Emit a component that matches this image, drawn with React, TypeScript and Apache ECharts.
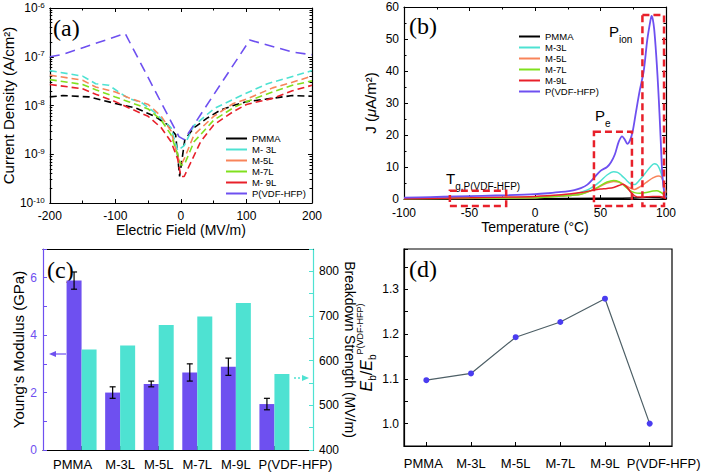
import React, { useEffect, useRef } from 'react';
import * as echarts from 'echarts';

const FONT = '"Liberation Sans", Arial, sans-serif';
const SERIF = '"Liberation Serif", "Times New Roman", serif';

const C_BLACK = '#000000';
const C_CYAN = '#4ee2d2';
const C_ORANGE = '#f8845a';
const C_GREEN = '#80e01e';
const C_RED = '#e8202a';
const C_PURPLE = '#6e50f0';
const SERIES_COLORS = [C_BLACK, C_CYAN, C_ORANGE, C_GREEN, C_RED, C_PURPLE];

// ---------- (a) leakage current density vs electric field ----------
const aNames = ['PMMA', 'M- 3L', 'M-5L', 'M-7L', 'M- 9L', 'P(VDF-HFP)'];
const aPMMA: number[][] = [[-200, 1.5e-8], [-180, 1.6e-8], [-140, 1.5e-8], [-100, 1.1e-8], [-70, 9e-9], [-40, 6e-9], [-20, 4e-9], [-8, 2.5e-9], [-2, 3.5e-10], [6, 2e-9], [20, 3.5e-9], [40, 5.5e-9], [60, 8e-9], [80, 1e-8], [100, 1.2e-8], [130, 1.35e-8], [170, 1.6e-8], [200, 1.55e-8]];
const aM3L: number[][] = [[-200, 5.2e-8], [-150, 4e-8], [-130, 2.8e-8], [-110, 2.6e-8], [-95, 1.9e-8], [-80, 1.4e-8], [-60, 1.15e-8], [-40, 7.2e-9], [-15, 3.5e-9], [-5, 1.2e-9], [5, 1.5e-9], [20, 3.9e-9], [51, 8.7e-9], [92, 1.6e-8], [132, 2.8e-8], [172, 4e-8], [200, 5.2e-8]];
const aM5L: number[][] = [[-200, 4.2e-8], [-150, 3.3e-8], [-130, 2.4e-8], [-100, 1.9e-8], [-80, 1.45e-8], [-50, 1.05e-8], [-30, 6e-9], [-15, 3e-9], [-5, 9e-10], [0, 6e-10], [5, 8e-10], [20, 2.5e-9], [50, 6e-9], [80, 1.1e-8], [100, 1.35e-8], [140, 2.3e-8], [170, 3e-8], [200, 4e-8]];
const aM7L: number[][] = [[-200, 3.4e-8], [-150, 2.7e-8], [-130, 2.1e-8], [-100, 1.5e-8], [-80, 1.2e-8], [-50, 8.5e-9], [-30, 5e-9], [-15, 2.5e-9], [-5, 1e-9], [0, 6e-10], [5, 6e-10], [20, 1.8e-9], [50, 5e-9], [80, 9e-9], [100, 1.2e-8], [140, 1.9e-8], [170, 2.6e-8], [200, 3.2e-8]];
const aM9L: number[][] = [[-200, 2.7e-8], [-150, 2.2e-8], [-130, 1.7e-8], [-100, 1.2e-8], [-80, 9e-9], [-50, 6e-9], [-30, 3.5e-9], [-15, 1.8e-9], [-5, 8e-10], [0, 3.5e-10], [5, 3.5e-10], [30, 1.8e-9], [50, 4e-9], [80, 7.5e-9], [100, 1.05e-8], [140, 1.4e-8], [170, 2e-8], [200, 2.6e-8]];
const aPVDF: number[][] = [[-200, 1e-7], [-180, 1.12e-7], [-85, 3e-7], [-3, 2.3e-9], [5, 2e-9], [105, 2.2e-7], [170, 1.25e-7], [200, 1.1e-7]];
const aData = [aPMMA, aM3L, aM5L, aM7L, aM9L, aPVDF];
const aXTicks = [-200, 200, 100];
const aYRange = [1e-10, 1e-6];

// ---------- (b) TSDC ----------
const bNames = ['PMMA', 'M-3L', 'M-5L', 'M-7L', 'M-9L', 'P(VDF-HFP)'];
const bPMMA: number[][] = [[-100, 0.05], [0, 0.1], [50, 0.2], [75, 0.3], [85, 0.5], [95, 0.4], [100, 0.1]];
const bM3L: number[][] = [[-100, 0.2], [0, 0.5], [20, 1], [30, 1.5], [40, 2.8], [45, 4], [50, 5.6], [55, 7.5], [60, 8.5], [63, 8.3], [66, 7.4], [70, 5.8], [73, 4.7], [76, 4.5], [80, 6], [84, 8], [88, 10], [91, 11], [93, 10.8], [95, 9.5], [97, 7], [98.5, 3], [100, 0.5]];
const bM5L: number[][] = [[-100, 0.1], [0, 0.4], [20, 0.9], [35, 1.5], [45, 3], [50, 4], [55, 5], [60, 5.5], [64, 5.3], [68, 4.5], [72, 3.5], [76, 3], [80, 3.8], [85, 5.2], [90, 6.6], [94, 7.2], [96, 7], [98, 5.5], [100, 2]];
const bM7L: number[][] = [[-100, 0.1], [0, 0.4], [20, 0.9], [35, 1.5], [45, 3], [50, 4.2], [55, 5.3], [60, 5.8], [64, 5.4], [68, 4.2], [72, 2.8], [76, 2], [80, 1.8], [85, 2], [90, 2.5], [93, 2.6], [96, 2.1], [98, 1.5], [100, 0.8]];
const bM9L: number[][] = [[-100, 0.1], [-50, 0.4], [0, 0.8], [20, 1.3], [35, 2], [45, 2.8], [50, 3.1], [55, 3.3], [60, 3.6], [64, 4.2], [67, 4.6], [70, 3.8], [73, 2.2], [76, 1], [80, 0.6], [85, 0.7], [90, 0.8], [95, 0.8], [98, 0.5], [100, 0.1]];
const bPVDF: number[][] = [[-100, 0.4], [-80, 0.6], [-60, 0.8], [-40, 1.0], [-20, 1.2], [0, 1.5], [10, 1.8], [20, 2.2], [30, 2.8], [35, 3.4], [40, 4.5], [45, 6.6], [50, 8.8], [55, 10], [58, 11.5], [61, 14], [64, 18], [66.5, 19.6], [68.5, 18.6], [70.5, 17.2], [72.5, 18.3], [74.5, 21], [77, 27], [80, 34], [83, 40], [85.7, 49.7], [88, 55.5], [89, 57.2], [90, 56], [91, 53], [92, 48], [93, 42], [94, 35], [95, 27], [96, 18], [97, 9], [98, 4], [99, 1.5], [100, 0.5]];
const bData = [bPMMA, bM3L, bM5L, bM7L, bM9L, bPVDF];
// dashed highlight boxes: [xStart, yBottom, xEnd, yTop]
const bBoxes: number[][] = [[-65, -2.2, -22, 2.6], [45, -2.2, 74, 21], [82, -2.2, 98.5, 57.5]];

// ---------- (c) Young's modulus and breakdown strength ----------
const cCategories = ['', 'PMMA', 'M-3L', 'M-5L', 'M-7L', 'M-9L', 'P(VDF-HFP)', ''];
const cModulus = ['-', 5.9, 2.0, 2.3, 2.7, 2.9, 1.6, '-'];
const cModulusErr: number[][] = [[1, 5.6, 6.2], [2, 1.8, 2.2], [3, 2.2, 2.4], [4, 2.4, 3.0], [5, 2.6, 3.2], [6, 1.4, 1.8]];
const cBreakdown = ['-', 625, 634, 680, 699, 729, 570, '-'];

// ---------- (d) normalized breakdown strength ----------
const dCategories = ['PMMA', 'M-3L', 'M-5L', 'M-7L', 'M-9L', 'P(VDF-HFP)'];
const dRatio = [1.097, 1.112, 1.193, 1.227, 1.279, 1.0];

const tickIn = (color = '#000') => ({ show: true, inside: true, length: 4, lineStyle: { color, width: 1 } });
const minorIn = (n: number, color = '#000') => ({ show: true, splitNumber: n, length: 2.5, lineStyle: { color, width: 1 } });
const line = (color = '#000') => ({ show: true, onZero: false, lineStyle: { color, width: 1.2 } });

function catLabel(v: string) {
  if (v === 'PMMA') return `{l|${v}}`;
  if (v === 'P(VDF-HFP)') return `{r|${v}}`;
  return v;
}

function buildOption(): any {
  const lbl = { fontFamily: FONT, fontSize: 12, color: '#000' };
  const nameStyle = { fontFamily: FONT, fontSize: 14, color: '#000' };
  const catRich = (shiftL: number, shiftR: number) => ({
    l: { fontFamily: FONT, fontSize: 13, color: '#000', padding: [0, shiftL, 0, 0] },
    r: { fontFamily: FONT, fontSize: 13, color: '#000', padding: [0, 0, 0, shiftR] },
  });

  const series: any[] = [];
  aData.forEach((d, i) => {
    series.push({
      type: 'line', name: aNames[i], xAxisIndex: 0, yAxisIndex: 0, data: d, symbol: 'none',
      lineStyle: { color: SERIES_COLORS[i], width: 1.6, type: i === 5 ? [10, 6] : [7, 4] },
      itemStyle: { color: SERIES_COLORS[i] },
    });
  });
  bData.forEach((d, i) => {
    series.push({
      type: 'line', name: bNames[i], xAxisIndex: 2, yAxisIndex: 2, data: d, symbol: 'none', smooth: 0.3,
      lineStyle: { color: SERIES_COLORS[i], width: i === 5 ? 1.8 : 1.5 },
      itemStyle: { color: SERIES_COLORS[i] }, z: i === 5 ? 3 : 2,
    });
  });
  series.push({
    type: 'custom', xAxisIndex: 2, yAxisIndex: 2, data: bBoxes, z: 5, silent: true,
    renderItem: (_p: any, api: any) => {
      const a = api.coord([api.value(0), api.value(3)]);
      const b = api.coord([api.value(2), api.value(1)]);
      return {
        type: 'rect', shape: { x: a[0], y: a[1], width: b[0] - a[0], height: b[1] - a[1] },
        style: { fill: 'none', stroke: C_RED, lineWidth: 2.5, lineDash: [7, 4] },
      };
    },
  });
  series.push({
    type: 'bar', name: "Young's Modulus", xAxisIndex: 4, yAxisIndex: 4, data: cModulus,
    barWidth: 15, barGap: '0%', itemStyle: { color: C_PURPLE },
  });
  series.push({
    type: 'bar', name: 'Breakdown Strength', xAxisIndex: 4, yAxisIndex: 5, data: cBreakdown,
    barWidth: 15, barGap: '0%', itemStyle: { color: C_CYAN },
  });
  series.push({
    type: 'custom', xAxisIndex: 4, yAxisIndex: 4, data: cModulusErr, z: 5, silent: true,
    renderItem: (_p: any, api: any) => {
      const lo = api.coord([api.value(0), api.value(1)]);
      const hi = api.coord([api.value(0), api.value(2)]);
      const x = lo[0] - 7.5;
      const cap = 3;
      const st = { stroke: '#000', lineWidth: 1.2 };
      return {
        type: 'group', children: [
          { type: 'line', shape: { x1: x, y1: lo[1], x2: x, y2: hi[1] }, style: st },
          { type: 'line', shape: { x1: x - cap, y1: lo[1], x2: x + cap, y2: lo[1] }, style: st },
          { type: 'line', shape: { x1: x - cap, y1: hi[1], x2: x + cap, y2: hi[1] }, style: st },
        ],
      };
    },
  });
  series.push({
    type: 'line', name: 'Eb ratio', xAxisIndex: 6, yAxisIndex: 6, data: dRatio,
    symbol: 'circle', symbolSize: 6, lineStyle: { color: '#4d5f66', width: 1.2 },
    itemStyle: { color: '#4a3cf0' },
  });

  const logLabel = (v: number) => `{b|10}{s|${Math.round(Math.log10(v))}}`;
  const legendBase = {
    orient: 'vertical', icon: 'rect', itemWidth: 21, itemHeight: 2, itemGap: 0,
    selectedMode: false, textStyle: { fontFamily: FONT, fontSize: 9.5, color: '#000', lineHeight: 11 },
  };

  return {
    animation: false,
    backgroundColor: '#fff',
    textStyle: { fontFamily: FONT },
    grid: [
      { left: 47, top: 8, width: 265, height: 195 },
      { left: 404, top: 7, width: 262, height: 192 },
      { left: 43, top: 249, width: 270, height: 201 },
      { left: 404, top: 249, width: 268, height: 197, show: true, borderColor: '#000', borderWidth: 1.2 },
    ],
    legend: [
      { ...legendBase, data: aNames, left: 221, top: 128 },
      { ...legendBase, data: bNames, left: 514, top: 26 },
    ],
    xAxis: [
      {
        gridIndex: 0, type: 'value', min: aXTicks[0], max: aXTicks[1], interval: aXTicks[2],
        axisLine: line(), axisTick: tickIn(), minorTick: minorIn(2), splitLine: { show: false },
        axisLabel: { ...lbl, margin: 7 },
        name: 'Electric Field (MV/m)', nameLocation: 'middle', nameGap: 20, nameTextStyle: nameStyle,
      },
      {
        gridIndex: 0, type: 'value', position: 'top', min: aXTicks[0], max: aXTicks[1], interval: aXTicks[2],
        axisLine: line(), axisTick: tickIn(), minorTick: minorIn(2), splitLine: { show: false }, axisLabel: { show: false },
      },
      {
        gridIndex: 1, type: 'value', min: -100, max: 100, interval: 50,
        axisLine: line(), axisTick: tickIn(), minorTick: minorIn(2), splitLine: { show: false },
        axisLabel: { ...lbl, margin: 8 },
        name: 'Temperature (°C)', nameLocation: 'middle', nameGap: 21, nameTextStyle: nameStyle,
      },
      {
        gridIndex: 1, type: 'value', position: 'top', min: -100, max: 100, interval: 50,
        axisLine: line(), axisTick: tickIn(), minorTick: minorIn(2), splitLine: { show: false }, axisLabel: { show: false },
      },
      {
        gridIndex: 2, type: 'category', data: cCategories, boundaryGap: false,
        axisLine: line(), axisTick: { ...tickIn(), interval: (i: number) => i >= 1 && i <= 6 },
        axisLabel: { fontFamily: FONT, fontSize: 13, color: '#000', margin: 8, interval: 0, formatter: catLabel, rich: catRich(18, 42) },
      },
      {
        gridIndex: 2, type: 'category', data: cCategories, boundaryGap: false, position: 'top',
        axisLine: line(), axisTick: { show: false }, axisLabel: { show: false },
      },
      {
        gridIndex: 3, type: 'category', data: dCategories, boundaryGap: true,
        axisLine: line(), axisTick: { ...tickIn(), alignWithLabel: true },
        axisLabel: { fontFamily: FONT, fontSize: 13, color: '#000', margin: 11, interval: 0, formatter: catLabel, rich: catRich(6, 28) },
      },
    ],
    yAxis: [
      {
        gridIndex: 0, type: 'log', logBase: 10, min: aYRange[0], max: aYRange[1],
        axisLine: line(), axisTick: tickIn(), minorTick: minorIn(9), splitLine: { show: false },
        axisLabel: {
          formatter: logLabel, margin: 5,
          rich: { b: { fontFamily: FONT, fontSize: 12, color: '#000', lineHeight: 14 }, s: { fontFamily: FONT, fontSize: 8, color: '#000', verticalAlign: 'top', lineHeight: 14 } },
        },
        name: 'Current Density (A/cm²)', nameLocation: 'middle', nameGap: 31, nameRotate: 90,
        nameTextStyle: { ...nameStyle, fontSize: 15 },
      },
      {
        gridIndex: 0, type: 'log', logBase: 10, min: aYRange[0], max: aYRange[1], position: 'right',
        axisLine: line(), axisTick: tickIn(), minorTick: minorIn(9), splitLine: { show: false }, axisLabel: { show: false },
      },
      {
        gridIndex: 1, type: 'value', min: 0, max: 60, interval: 10,
        axisLine: line(), axisTick: tickIn(), minorTick: minorIn(2), splitLine: { show: false },
        axisLabel: { ...lbl, margin: 5 },
        name: 'J ({i|μ}A/m²)', nameLocation: 'middle', nameGap: 26, nameRotate: 90,
        nameTextStyle: { ...nameStyle, fontSize: 15, rich: { i: { fontFamily: FONT, fontSize: 15, fontStyle: 'italic', color: '#000' } } },
      },
      {
        gridIndex: 1, type: 'value', min: 0, max: 60, interval: 10, position: 'right',
        axisLine: line(), axisTick: tickIn(), minorTick: minorIn(2), splitLine: { show: false }, axisLabel: { show: false },
      },
      {
        gridIndex: 2, type: 'value', min: 0, max: 7, interval: 1,
        axisLine: line(C_PURPLE), axisTick: tickIn(C_PURPLE), splitLine: { show: false },
        axisLabel: { fontFamily: FONT, fontSize: 12, color: C_PURPLE, margin: 6, formatter: (v: number) => (v % 2 === 0 ? String(v) : '') },
        name: "Young's Modulus (GPa)", nameLocation: 'middle', nameGap: 17, nameRotate: 90,
        nameTextStyle: { ...nameStyle, fontSize: 15 },
      },
      {
        gridIndex: 2, type: 'value', min: 400, max: 850, interval: 50, position: 'right',
        axisLine: line(C_CYAN), axisTick: tickIn(C_CYAN), splitLine: { show: false },
        axisLabel: { fontFamily: FONT, fontSize: 12, color: '#000', margin: 6, formatter: (v: number) => (v % 100 === 0 ? String(v) : '') },
        name: 'Breakdown Strength (MV/m)', nameLocation: 'middle', nameGap: 30, nameRotate: -90,
        nameTextStyle: { ...nameStyle, fontSize: 14 },
      },
      {
        gridIndex: 3, type: 'value', min: 0.95, max: 1.39, interval: 0.05,
        axisLine: line(), axisTick: tickIn(), splitLine: { show: false },
        axisLabel: {
          ...lbl, margin: 5,
          formatter: (v: number) => {
            const t = Math.round(v * 100);
            return t % 10 === 0 && t >= 100 ? (t / 100).toFixed(1) : '';
          },
        },
        name: '{i|E}{s|b}{n|/}{i|E}{s|b}{p|P(VDF-HFP)}', nameLocation: 'middle', nameGap: 27, nameRotate: 90,
        nameTextStyle: {
          ...nameStyle,
          rich: {
            i: { fontFamily: FONT, fontSize: 16, fontStyle: 'italic', color: '#000', lineHeight: 22 },
            n: { fontFamily: FONT, fontSize: 16, color: '#000', lineHeight: 22 },
            s: { fontFamily: FONT, fontSize: 10, color: '#000', lineHeight: 22, verticalAlign: 'bottom' },
            p: { fontFamily: FONT, fontSize: 9, color: '#000', lineHeight: 22, verticalAlign: 'top' },
          },
        },
      },
    ],
    series,
    graphic: [
      { type: 'text', x: 53, y: 16, style: { text: '(a)', font: `24px ${SERIF}`, fill: '#000' } },
      { type: 'text', x: 409, y: 14, style: { text: '(b)', font: `24px ${SERIF}`, fill: '#000' } },
      { type: 'text', x: 47, y: 258, style: { text: '(c)', font: `24px ${SERIF}`, fill: '#000' } },
      { type: 'text', x: 409, y: 257, style: { text: '(d)', font: `24px ${SERIF}`, fill: '#000' } },
      {
        type: 'text', x: 609, y: 24, style: {
          text: '{p|P}{s|ion}', rich: {
            p: { fontFamily: FONT, fontSize: 15, fill: '#000', lineHeight: 20, verticalAlign: 'top' },
            s: { fontFamily: FONT, fontSize: 10, fill: '#000', lineHeight: 20, verticalAlign: 'bottom' },
          },
        },
      },
      {
        type: 'text', x: 595, y: 108, style: {
          text: '{p|P}{s|e}', rich: {
            p: { fontFamily: FONT, fontSize: 15, fill: '#000', lineHeight: 20, verticalAlign: 'top' },
            s: { fontFamily: FONT, fontSize: 10, fill: '#000', lineHeight: 20, verticalAlign: 'bottom' },
          },
        },
      },
      {
        type: 'text', x: 446, y: 171, style: {
          text: '{p|T}{s|g,P(VDF-HFP)}', rich: {
            p: { fontFamily: FONT, fontSize: 15, fill: '#000', lineHeight: 20, verticalAlign: 'top' },
            s: { fontFamily: FONT, fontSize: 10, fill: '#000', lineHeight: 20, verticalAlign: 'bottom' },
          },
        },
      },
      // indicator arrows in (c)
      { type: 'line', shape: { x1: 66, y1: 354, x2: 54, y2: 354 }, style: { stroke: C_PURPLE, lineWidth: 1.2 } },
      { type: 'polygon', shape: { points: [[49, 354], [56, 351], [56, 357]] }, style: { fill: C_PURPLE } },
      { type: 'line', shape: { x1: 294, y1: 378, x2: 304, y2: 378 }, style: { stroke: C_CYAN, lineWidth: 1.4, lineDash: [2, 2] } },
      { type: 'polygon', shape: { points: [[309, 378], [302, 375], [302, 381]] }, style: { fill: C_CYAN } },
    ],
  };
}

export default function App() {
  const ref = useRef<HTMLDivElement>(null);
  useEffect(() => {
    document.body.style.margin = '0';
    const chart = echarts.init(ref.current!, undefined, { renderer: 'svg' });
    chart.setOption(buildOption());
    return () => chart.dispose();
  }, []);
  return (
    <div
      ref={ref}
      style={{ width: 709, height: 473, position: 'absolute', left: 0, top: 0, background: '#fff' }}
    />
  );
}
